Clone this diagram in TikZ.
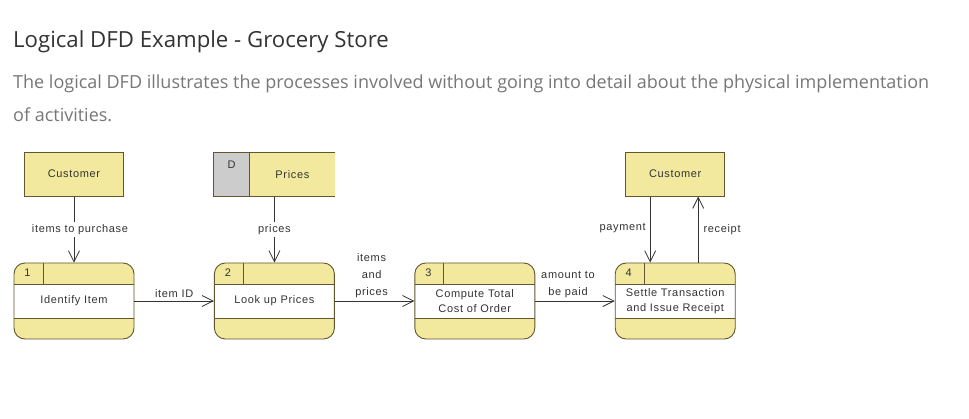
\documentclass[tikz,border=0pt]{standalone}
\usepackage{fontspec}
\setmainfont{Open Sans}
\newfontfamily\dfdfont[LetterSpace=6]{Liberation Sans}
\usetikzlibrary{positioning,arrows.meta}

\definecolor{dfdyellow}{RGB}{242,232,158}
\definecolor{dfdedge}{RGB}{96,86,48}
\definecolor{dfdgray}{RGB}{204,204,204}
\definecolor{flowline}{RGB}{51,51,51}
\definecolor{introgray}{RGB}{119,119,119}

\tikzset{
	process/.style={draw=dfdedge, fill=dfdyellow, line width=0.9pt, rounded corners=11pt,
		minimum width=120pt, minimum height=76pt, inner sep=1pt, align=center,
		font=\dfdfont\fontsize{11}{15.5}\selectfont, text=flowline,
		path picture={
			\fill[white, sharp corners] ([yshift=-21pt]path picture bounding box.north west) rectangle ([yshift=21pt]path picture bounding box.south east);
			\draw[dfdedge, line width=0.9pt, sharp corners] ([yshift=-21pt]path picture bounding box.north west) -- ++(200pt,0pt);
			\draw[dfdedge, line width=0.9pt, sharp corners] ([yshift=21pt]path picture bounding box.south west) -- ++(200pt,0pt);
			\draw[dfdedge, line width=0.9pt, sharp corners] ([xshift=29pt]path picture bounding box.north west) -- ++(0pt,-21pt);
		}},
	procnum/.style={font=\dfdfont\fontsize{11}{13}\selectfont, text=flowline, inner sep=0pt},
	entity/.style={draw=dfdedge, fill=dfdyellow, line width=0.9pt, minimum width=99pt, minimum height=44pt,
		font=\dfdfont\fontsize{11}{13}\selectfont, text=flowline},
	store/.style={fill=dfdyellow, minimum width=85pt, minimum height=44pt, inner sep=0pt,
		font=\dfdfont\fontsize{11}{13}\selectfont, text=flowline},
	storeid/.style={fill=dfdgray, minimum width=36pt, minimum height=44pt, inner sep=0pt},
	flow/.style={draw=flowline, line width=0.8pt, -{Straight Barb[length=11pt,width=11pt]}},
	flowlabel/.style={font=\dfdfont\fontsize{11}{17}\selectfont, text=flowline, align=center, inner sep=2pt},
}

\begin{document}
\begin{tikzpicture}[x=1pt, y=-1pt, node distance=79.5pt]
	\useasboundingbox[fill=white] (0,0) rectangle (969,418);

	\node[anchor=base west, inner sep=0pt, font=\fontsize{22.2}{26}\selectfont, text=flowline] (title) at (13,47) {Logical DFD Example - Grocery Store};
	\node[anchor=base west, inner sep=0pt, font=\fontsize{18}{33.5}\selectfont, text=introgray, align=left] (intro) at (13,121.5)
		{The logical DFD illustrates the processes involved without going into detail about the physical implementation\\of activities.};

	\node[process] (p1) at (74,301) {Identify Item};
	\node[process, right=of p1] (p2) {Look up Prices};
	\node[process, right=of p2] (p3) {Compute Total\\Cost of Order};
	\node[process, right=of p3] (p4) {Settle Transaction\\and Issue Receipt};
	\node[procnum] (n1) at ([xshift=14pt,yshift=-10.5pt]p1.north west) {1};
	\node[procnum] (n2) at ([xshift=14pt,yshift=-10.5pt]p2.north west) {2};
	\node[procnum] (n3) at ([xshift=14pt,yshift=-10.5pt]p3.north west) {3};
	\node[procnum] (n4) at ([xshift=14pt,yshift=-10.5pt]p4.north west) {4};

	\node[entity, above=66pt of p1] (cust1) {Customer};
	\node[entity, above=66pt of p4] (cust2) {Customer};
	\node[store, above=66pt of p2, xshift=18pt] (prices) {Prices};
	\node[storeid, left=0pt of prices] (pid) {};
	\node[procnum, below=8.5pt of pid.north] (dlabel) {D};
	\draw[dfdedge, line width=0.9pt] (prices.north east) -- (pid.north west) -- (pid.south west) -- (prices.south east);
	\draw[dfdedge, line width=0.9pt] (pid.north east) -- (pid.south east);

	\draw[flow] (cust1) -- node[flowlabel, fill=white, xshift=6pt] {items to purchase} (p1);
	\draw[flow] (prices.south -| p2.north) -- node[flowlabel, fill=white] {prices} (p2.north);
	\draw[flow] (p1) -- node[flowlabel, above, yshift=1pt] {item ID} (p2);
	\draw[flow] (p2) -- node[flowlabel, above, xshift=-3pt, yshift=1pt] {items\\and\\prices} (p3);
	\draw[flow] (p3) -- node[flowlabel, above, xshift=-7pt, yshift=1pt] {amount to\\be paid} (p4);
	\draw[flow] ([xshift=-25pt]cust2.south) -- node[flowlabel, left, xshift=-2pt, yshift=1pt] {payment} ([xshift=-25pt]p4.north);
	\draw[flow] ([xshift=23pt]p4.north) -- node[flowlabel, right, xshift=3pt] {receipt} ([xshift=23pt]cust2.south);
\end{tikzpicture}
\end{document}
